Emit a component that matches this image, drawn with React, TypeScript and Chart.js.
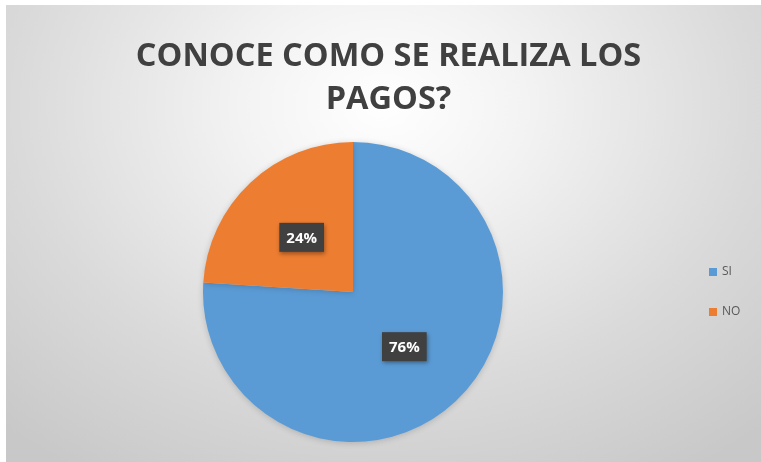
import React, { useEffect, useRef } from "react";
import { Chart, registerables } from "chart.js";

Chart.register(...registerables);

const categories = ["SI", "NO"];
const values = [76, 24];
const colors = ["#5B9BD5", "#ED7D31"];
const titleLines = ["CONOCE COMO SE REALIZA LOS", "PAGOS?"];

const labelPlugin = {
  id: "pctLabels",
  afterDatasetsDraw(chart: any) {
    const meta = chart.getDatasetMeta(0);
    const data = chart.data.datasets[0].data as number[];
    const total = data.reduce((a, b) => a + b, 0);
    const ctx = chart.ctx;
    ctx.save();
    meta.data.forEach((arc: any, i: number) => {
      const p = arc.getProps(["x", "y", "startAngle", "endAngle", "outerRadius"], true);
      const mid = (p.startAngle + p.endAngle) / 2;
      const r = p.outerRadius * 0.5;
      const cx = p.x + Math.cos(mid) * r;
      const cy = p.y + Math.sin(mid) * r;
      const txt = Math.round((data[i] / total) * 100) + "%";
      ctx.font = "bold 15px 'Open Sans', sans-serif";
      const w = ctx.measureText(txt).width + 14;
      const h = 29;
      ctx.shadowColor = "rgba(0,0,0,0.35)";
      ctx.shadowBlur = 4;
      ctx.shadowOffsetX = 1;
      ctx.shadowOffsetY = 2;
      ctx.fillStyle = "#404040";
      ctx.fillRect(cx - w / 2, cy - h / 2, w, h);
      ctx.shadowColor = "transparent";
      ctx.fillStyle = "#ffffff";
      ctx.textAlign = "center";
      ctx.textBaseline = "middle";
      ctx.fillText(txt, cx, cy + 1);
    });
    ctx.restore();
  },
};

const titlePlugin = {
  id: "topTitle",
  afterDraw(chart: any) {
    const ctx = chart.ctx;
    ctx.save();
    ctx.font = "bold 32.5px 'Open Sans', sans-serif";
    ctx.fillStyle = "#404040";
    ctx.textAlign = "center";
    ctx.textBaseline = "middle";
    const cx = chart.width / 2 + 5;
    titleLines.forEach((line, i) => {
      ctx.fillText(line, cx, 52 + i * 43);
    });
    ctx.restore();
  },
};

const legendPlugin = {
  id: "sideLegend",
  afterDraw(chart: any) {
    const ctx = chart.ctx;
    const area = chart.chartArea;
    const midY = (area.top + area.bottom) / 2;
    const labels = chart.data.labels as string[];
    const bg = chart.data.datasets[0].backgroundColor as string[];
    const spacing = 40;
    const x0 = area.right + 9;
    ctx.save();
    ctx.font = "12px 'Open Sans', sans-serif";
    ctx.textBaseline = "middle";
    ctx.textAlign = "left";
    labels.forEach((lab, i) => {
      const y = midY + (i - (labels.length - 1) / 2) * spacing;
      ctx.fillStyle = bg[i];
      ctx.fillRect(x0, y - 4, 8, 8);
      ctx.fillStyle = "#595959";
      ctx.fillText(lab, x0 + 13, y);
    });
    ctx.restore();
  },
};

const shadowPlugin = {
  id: "pieShadow",
  beforeDatasetsDraw(chart: any) {
    const ctx = chart.ctx;
    ctx.save();
    ctx.shadowColor = "rgba(0,0,0,0.18)";
    ctx.shadowBlur = 6;
    ctx.shadowOffsetY = 1;
  },
  afterDatasetsDraw(chart: any) {
    chart.ctx.restore();
  },
};

export default function App() {
  const ref = useRef<HTMLCanvasElement>(null);
  useEffect(() => {
    if (!ref.current) return;
    const chart = new Chart(ref.current, {
      type: "pie",
      data: {
        labels: categories,
        datasets: [
          {
            data: values,
            backgroundColor: colors,
            borderWidth: 0,
          },
        ],
      },
      options: {
        animation: false,
        responsive: true,
        maintainAspectRatio: false,
        layout: { padding: { top: 137, bottom: 20, left: 0, right: 61 } },
        plugins: {
          title: { display: false },
          legend: { display: false },
          tooltip: { enabled: false },
        },
      },
      plugins: [shadowPlugin, labelPlugin, legendPlugin, titlePlugin],
    });
    return () => chart.destroy();
  }, []);
  return (
    <div
      style={{
        position: "absolute",
        left: 6,
        top: 5,
        width: 755,
        height: 457,
        background:
          "radial-gradient(ellipse 75% 95% at 50% 22%, #ffffff 0%, #f3f3f3 25%, #dadada 65%, #c8c8c8 100%)",
      }}
    >
      <canvas ref={ref} />
    </div>
  );
}
